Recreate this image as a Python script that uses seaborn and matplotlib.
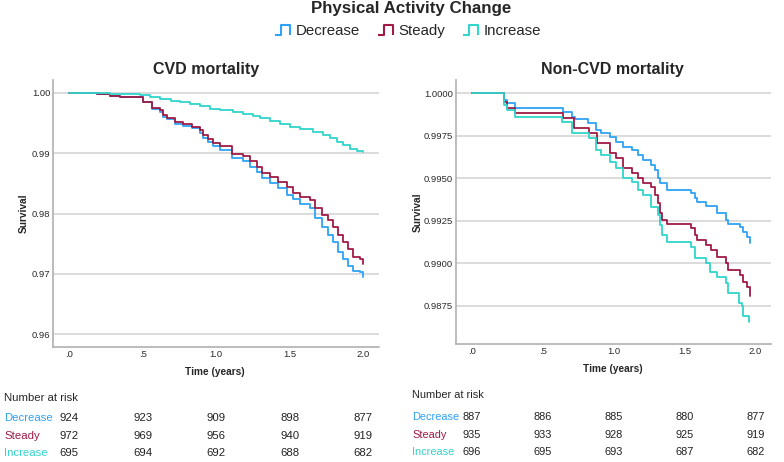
import numpy as np
import pandas as pd
import seaborn as sns
import matplotlib.pyplot as plt
from matplotlib.lines import Line2D
from matplotlib.path import Path
from matplotlib import transforms

sns.set_style("white")
plt.rcParams['font.family'] = ['Liberation Sans', 'DejaVu Sans']

groups = ['Decrease', 'Steady', 'Increase']
colors = {'Decrease': '#2ea3f5', 'Steady': '#a01a45', 'Increase': '#30d5cc'}

# --- CVD mortality (left panel), KM step points ---
cvd_t_decrease = [0, 0.186, 0.277, 0.345, 0.503, 0.56, 0.617, 0.64, 0.662, 0.719, 0.776, 0.833,
                  0.889, 0.912, 0.946, 0.98, 1.025, 1.104, 1.184, 1.229, 1.275, 1.309, 1.365,
                  1.422, 1.479, 1.524, 1.569, 1.637, 1.671, 1.716, 1.762, 1.796, 1.83, 1.864,
                  1.898, 1.932, 1.977, 1.995]
cvd_s_decrease = [1.0, 0.99975, 0.99942, 0.99925, 0.99845, 0.99731, 0.99686, 0.99604, 0.99561,
                  0.99478, 0.99445, 0.99412, 0.9934, 0.99257, 0.99191, 0.9912, 0.9905, 0.98917,
                  0.98861, 0.98767, 0.98694, 0.98583, 0.98511, 0.98417, 0.98306, 0.98233,
                  0.98156, 0.98083, 0.97933, 0.97778, 0.97639, 0.97528, 0.97361, 0.9725,
                  0.97139, 0.97056, 0.97028, 0.96944]
cvd_t_steady = cvd_t_decrease
cvd_s_steady = [1.0, 0.99978, 0.99945, 0.99929, 0.99852, 0.99753, 0.99715, 0.99632, 0.99577,
                0.99511, 0.99478, 0.99439, 0.99385, 0.99302, 0.99236, 0.99167, 0.9911, 0.98989,
                0.98956, 0.98861, 0.98778, 0.98678, 0.98611, 0.98528, 0.98444, 0.98344,
                0.98278, 0.98222, 0.98083, 0.97972, 0.979, 0.97778, 0.97639, 0.97528,
                0.97417, 0.97278, 0.9725, 0.97167]
cvd_t_increase = [0, 0.28, 0.40, 0.48, 0.55, 0.62, 0.69, 0.754, 0.82, 0.889, 0.957, 1.025,
                  1.116, 1.184, 1.252, 1.297, 1.365, 1.433, 1.501, 1.569, 1.66, 1.728, 1.773,
                  1.818, 1.864, 1.909, 1.954, 1.995]
cvd_s_increase = [1.0, 0.99985, 0.99978, 0.9996, 0.9993, 0.99896, 0.99868, 0.99842, 0.9982,
                  0.99781, 0.99738, 0.9971, 0.99672, 0.99639, 0.99617, 0.99574, 0.9953,
                  0.99475, 0.99437, 0.99399, 0.99355, 0.99301, 0.99257, 0.99191, 0.99126,
                  0.99071, 0.99038, 0.99016]

# --- Non-CVD mortality (right panel) ---
ncvd_t_decrease = [0, 0.226, 0.247, 0.306, 0.647, 0.706, 0.729, 0.821, 0.88, 0.915, 0.974,
                   1.021, 1.068, 1.127, 1.174, 1.209, 1.268, 1.291, 1.315, 1.327, 1.374, 1.55,
                   1.574, 1.586, 1.656, 1.727, 1.797, 1.809, 1.891, 1.915, 1.939, 1.962]
ncvd_s_decrease = [1.0, 0.99961, 0.99941, 0.99912, 0.99892, 0.99863, 0.99847, 0.99827, 0.99784,
                   0.99765, 0.99745, 0.99715, 0.99686, 0.99667, 0.99637, 0.99608, 0.99578,
                   0.99549, 0.995, 0.99471, 0.99431, 0.99412, 0.99382, 0.99362, 0.99337,
                   0.99294, 0.99255, 0.99231, 0.99215, 0.99186, 0.99157, 0.99121]
ncvd_t_steady = [0, 0.226, 0.247, 0.306, 0.647, 0.718, 0.824, 0.882, 0.974, 1.021, 1.068,
                 1.127, 1.174, 1.209, 1.268, 1.291, 1.315, 1.327, 1.339, 1.374, 1.55, 1.574,
                 1.586, 1.656, 1.691, 1.727, 1.797, 1.809, 1.891, 1.915, 1.939, 1.962]
ncvd_s_steady = [1.0, 0.99951, 0.99912, 0.99882, 0.99853, 0.99794, 0.99769, 0.99706, 0.99647,
                 0.99618, 0.99559, 0.99529, 0.995, 0.99471, 0.99451, 0.99402, 0.99353, 0.99294,
                 0.99255, 0.9923, 0.99206, 0.99167, 0.99137, 0.99108, 0.99078, 0.99039, 0.99,
                 0.9896, 0.98931, 0.98892, 0.98863, 0.98808]
ncvd_t_increase = [0, 0.226, 0.247, 0.306, 0.635, 0.706, 0.828, 0.88, 0.915, 0.974, 1.021,
                   1.068, 1.127, 1.174, 1.209, 1.268, 1.315, 1.327, 1.339, 1.374, 1.55, 1.574,
                   1.656, 1.68, 1.727, 1.797, 1.809, 1.882, 1.905, 1.917, 1.957]
ncvd_s_increase = [1.0, 0.99931, 0.99902, 0.99863, 0.99833, 0.99765, 0.99735, 0.99667, 0.99637,
                   0.99598, 0.99559, 0.995, 0.9948, 0.99431, 0.99402, 0.99333, 0.99284,
                   0.99225, 0.99167, 0.99127, 0.99098, 0.99029, 0.99, 0.98951, 0.98921,
                   0.98882, 0.98824, 0.98766, 0.9875, 0.98688, 0.98653]

# --- Number at risk ---
risk_times = [0, 0.5, 1.0, 1.5, 2.0]
cvd_risk = {'Decrease': [924, 923, 909, 898, 877],
            'Steady': [972, 969, 956, 940, 919],
            'Increase': [695, 694, 692, 688, 682]}
ncvd_risk = {'Decrease': [887, 886, 885, 880, 877],
             'Steady': [935, 933, 928, 925, 919],
             'Increase': [696, 695, 693, 687, 682]}

x_ticks = [0, 0.5, 1.0, 1.5, 2.0]
x_ticklabels = ['.0', '.5', '1.0', '1.5', '2.0']
cvd_yticks = [0.96, 0.97, 0.98, 0.99, 1.00]
ncvd_yticks = [0.9875, 0.99, 0.9925, 0.995, 0.9975, 1.0]


def to_long(times, survs):
    frames = []
    for g, t, s in zip(groups, times, survs):
        frames.append(pd.DataFrame({'time': t, 'survival': s, 'group': g}))
    return pd.concat(frames, ignore_index=True)


cvd_df = to_long([cvd_t_decrease, cvd_t_steady, cvd_t_increase],
                 [cvd_s_decrease, cvd_s_steady, cvd_s_increase])
ncvd_df = to_long([ncvd_t_decrease, ncvd_t_steady, ncvd_t_increase],
                  [ncvd_s_decrease, ncvd_s_steady, ncvd_s_increase])

W, H = 784, 462
fig = plt.figure(figsize=(W / 100, H / 100), dpi=100)
ax1 = fig.add_axes([53 / W, 1 - 347 / H, 326 / W, 267 / H])
ax2 = fig.add_axes([456 / W, 1 - 344 / H, 315 / W, 264 / H])


def draw_panel(ax, df, title, yticks, yfmt, xlim, ylim, title_x):
    for g in groups:
        sub = df[df['group'] == g]
        sns.lineplot(data=sub, x='time', y='survival', ax=ax, color=colors[g],
                     drawstyle='steps-post', linewidth=1.3, estimator=None,
                     sort=False, legend=False)
    ax.set_xlim(*xlim)
    ax.set_ylim(*ylim)
    ax.set_xticks(x_ticks)
    ax.set_xticklabels(x_ticklabels)
    ax.set_yticks(yticks)
    ax.set_yticklabels([yfmt.format(v) for v in yticks])
    ax.tick_params(length=0, labelsize=6.8, labelcolor='#2a2a2a', pad=2)
    ax.yaxis.grid(True, color='#d6d6d6', linewidth=1.2)
    ax.xaxis.grid(False)
    ax.set_axisbelow(True)
    for side in ['top', 'right']:
        ax.spines[side].set_visible(False)
    for side in ['left', 'bottom']:
        ax.spines[side].set_color('#b0b0b0')
        ax.spines[side].set_linewidth(1.2)
    ax.set_title(title, fontsize=11.5, fontweight='bold', pad=4, x=title_x)
    ax.set_xlabel('Time (years)', fontsize=7.3, fontweight='bold')
    ax.set_ylabel('Survival', fontsize=7.3, fontweight='bold')


draw_panel(ax1, cvd_df, 'CVD mortality', cvd_yticks, '{:.2f}',
           (-0.111, 2.107), (0.9579, 1.0021), 0.471)
draw_panel(ax2, ncvd_df, 'Non-CVD mortality', ncvd_yticks, '{:.4f}',
           (-0.111, 2.111), (0.98526, 1.00078), 0.497)

ax1.xaxis.set_label_coords(0.497, -0.075)
ax2.xaxis.set_label_coords(0.497, -0.077)
ax1.yaxis.set_label_coords(-0.074, 0.5)
ax2.yaxis.set_label_coords(-0.106, 0.5)

# number-at-risk tables
def risk_table(ax, risk, label_x, head_y, row_ys, size):
    fig.text(label_x, head_y, 'Number at risk', fontsize=size, va='center', ha='left')
    trans = transforms.blended_transform_factory(ax.transData, fig.transFigure)
    for g, y in zip(groups, row_ys):
        fig.text(label_x, y, g, fontsize=size, color=colors[g], va='center', ha='left')
        for t, n in zip(risk_times, risk[g]):
            fig.text(t, y, str(n), fontsize=size, va='center', ha='center',
                     transform=trans, color='#222222')


risk_table(ax1, cvd_risk, 4 / W, 1 - 398 / H, [1 - 418 / H, 1 - 436 / H, 1 - 453 / H], 8.2)
risk_table(ax2, ncvd_risk, 412 / W, 1 - 395 / H, [1 - 417 / H, 1 - 435 / H, 1 - 452 / H], 7.9)

# header and legend with step-shaped icons
fig.text(411 / W, 1 - 9 / H, 'Physical Activity Change', fontsize=12.2, fontweight='bold',
         ha='center', va='center')
step_icon = Path([(-1.0, -0.5), (-0.4, -0.5), (-0.4, 0.5), (0.55, 0.5), (0.55, -0.5)],
                 [Path.MOVETO, Path.LINETO, Path.LINETO, Path.LINETO, Path.LINETO])
handles = [Line2D([], [], linestyle='none', marker=step_icon, markersize=14,
                  markerfacecolor='none', markeredgecolor=colors[g], markeredgewidth=1.5)
           for g in groups]
fig.legend(handles, groups, loc='center', bbox_to_anchor=(409 / W, 1 - 31 / H), ncol=3,
           frameon=False, fontsize=10.8, handlelength=1.1, handletextpad=0.15,
           columnspacing=1.3, borderpad=0)

fig.savefig('out.png', dpi=100)
